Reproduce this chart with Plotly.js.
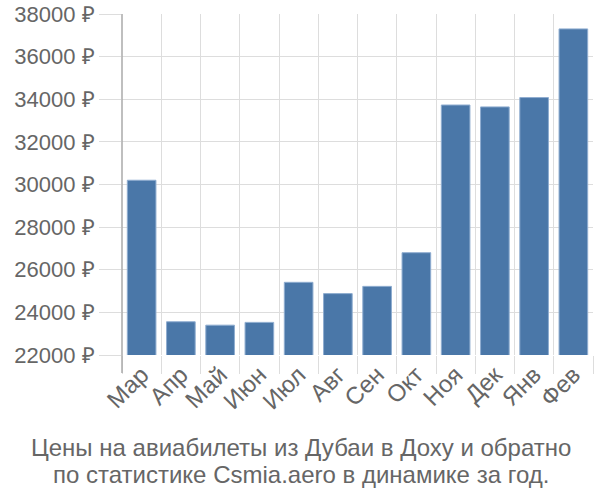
<!DOCTYPE html>
<html><head><meta charset="utf-8">
<script src="https://cdn.plot.ly/plotly-3.0.1.min.js"></script>
<style>html,body{margin:0;padding:0;background:#fff}#c{width:600px;height:500px}</style>
</head><body><div id="c"></div>
<script>
const months = ["Мар","Апр","Май","Июн","Июл","Авг","Сен","Окт","Ноя","Дек","Янв","Фев"];
const prices = [30200, 23560, 23400, 23530, 25410, 24880, 25220, 26800, 33730, 33640, 34080, 37300];
const yTicks = [22000, 24000, 26000, 28000, 30000, 32000, 34000, 36000, 38000];
const yTickText = yTicks.map(v => v + " ₽");
const captionLines = ["Цены на авиабилеты из Дубаи в Доху и обратно",
                      "по статистике Csmia.aero в динамике за год."];

const fam = "Liberation Sans, Arial, sans-serif";
const font = {family: fam, size: 22, color: "#666"};
const xFont = {family: fam, size: 24, color: "#666"};
const capFont = {family: fam, size: 24, color: "#666"};
Plotly.newPlot("c", [{
  type: "bar", x: months, y: prices,
  marker: {color: "#4a77a8", line: {color: "#8fadd0", width: 1}},
  hoverinfo: "none"
}], {
  width: 600, height: 500,
  margin: {l: 122, r: 7, t: 14, b: 145},
  paper_bgcolor: "#fff", plot_bgcolor: "#fff",
  bargap: 0.27,
  font: font,
  showlegend: false,
  xaxis: {
    type: "category", tickson: "boundaries", ticks: "outside", ticklen: 18,
    tickcolor: "#ddd", tickwidth: 1, showgrid: true, gridcolor: "#ddd", gridwidth: 1,
    tickangle: -45, tickfont: xFont, showline: false, zeroline: false, fixedrange: true
  },
  yaxis: {
    range: [22000, 38000], tickvals: yTicks, ticktext: yTickText,
    ticks: "outside", ticklen: 22, tickcolor: "#ddd", tickwidth: 1,
    showgrid: true, gridcolor: "#ddd", gridwidth: 1, tickfont: font,
    zeroline: false, showline: false, fixedrange: true
  },
  shapes: [{type: "line", xref: "paper", yref: "paper", x0: 0, x1: 0, y0: -0.053, y1: 1,
            line: {color: "#aaa", width: 1.5}}],
  annotations: captionLines.map((t, i) => ({
    text: t, xref: "paper", yref: "paper", x: 0.38, y: i === 0 ? -0.27 : -0.349,
    xanchor: "center", yanchor: "middle", showarrow: false, font: capFont
  }))
}, {staticPlot: true});
</script></body></html>
